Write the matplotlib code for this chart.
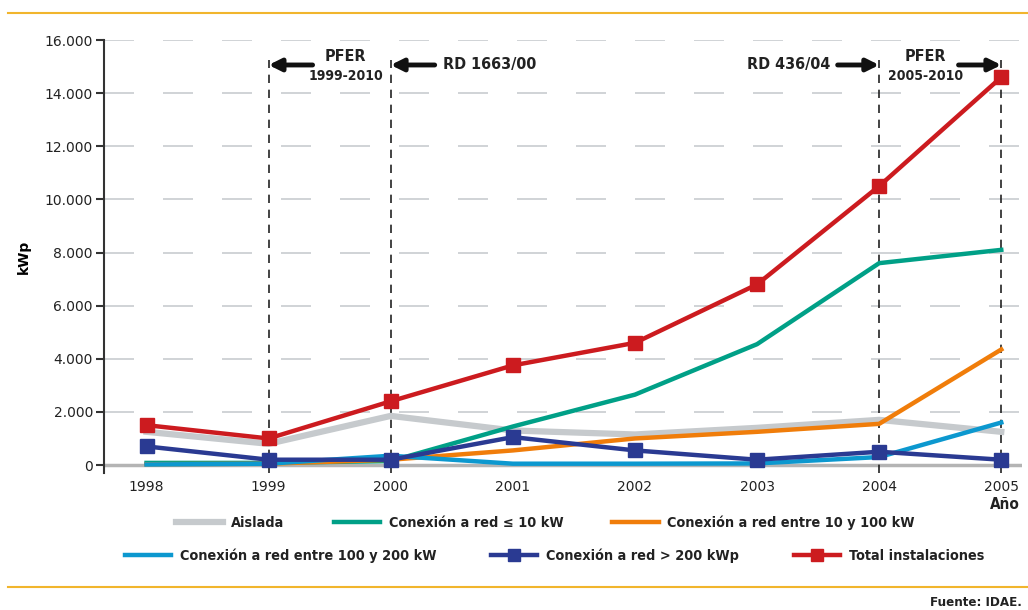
import matplotlib.pyplot as plt
from matplotlib.lines import Line2D
from matplotlib.ticker import FuncFormatter
from matplotlib.font_manager import FontProperties

years = [1998, 1999, 2000, 2001, 2002, 2003, 2004, 2005]
aislada = [1250, 800, 1850, 1300, 1150, 1400, 1700, 1250]
red_10 = [80, 80, 150, 1450, 2650, 4550, 7600, 8100]
red_10_100 = [30, 50, 200, 550, 1000, 1250, 1550, 4350]
red_100_200 = [20, 50, 350, 50, 50, 60, 300, 1600]
red_200 = [700, 200, 200, 1050, 550, 200, 500, 200]
total = [1500, 1000, 2400, 3750, 4600, 6800, 10500, 14600]

labels = ['Aislada', 'Conexión a red ≤ 10 kW', 'Conexión a red entre 10 y 100 kW',
          'Conexión a red entre 100 y 200 kW', 'Conexión a red > 200 kWp', 'Total instalaciones']
colors = ['#c6cacd', '#00a087', '#f07d0a', '#0c98cf', '#2a3a92', '#cc1b1f']
milestones = [1999, 2000, 2004, 2005]


def narrow(size):
    return FontProperties(family='DejaVu Sans', stretch='condensed', weight='bold', size=size)


fig = plt.figure(figsize=(10.28, 6.1), dpi=100)
ax = fig.add_axes([0.1012, 0.2246, 0.893, 0.7098])

ax.set_xlim(1997.652, 2005.17)
ax.set_ylim(-300, 16000)

# grid and base line
ax.grid(axis='y', color='#c8ccd0', lw=1.2, linestyle=(0, (18, 17.4)))
ax.set_axisbelow(True)
ax.axhline(0, color='#b4b4b4', lw=2.5, zorder=1)

# milestone lines
ax.vlines(milestones, -300, 15250, colors='#222222', lw=1.2,
          linestyles=(0, (5, 4)), zorder=2)

ax.plot(years, aislada, color=colors[0], lw=4.5, zorder=3)
ax.plot(years, red_10, color=colors[1], lw=3.2, zorder=3)
ax.plot(years, red_10_100, color=colors[2], lw=3.2, zorder=3)
ax.plot(years, red_100_200, color=colors[3], lw=3.2, zorder=3)
ax.plot(years, red_200, color=colors[4], lw=3.2, marker='s', ms=10, zorder=4)
ax.plot(years, total, color=colors[5], lw=3.2, marker='s', ms=10, zorder=5)

for s in ['top', 'right', 'bottom']:
    ax.spines[s].set_visible(False)
ax.spines['left'].set_color('#333333')
ax.spines['left'].set_linewidth(1.5)

ax.set_yticks(range(0, 16001, 2000))
ax.yaxis.set_major_formatter(FuncFormatter(lambda v, p: f'{v:,.0f}'.replace(',', '.')))
ax.tick_params(axis='y', direction='out', length=6, width=1.5, color='#333333',
               labelsize=10, labelcolor='#222222', pad=2)
ax.set_xticks(years)
ax.tick_params(axis='x', length=0, labelsize=10, labelcolor='#222222', pad=5)

ax.set_ylabel('kWp', fontsize=10, fontweight='bold', labelpad=10)
ax.text(2005.03, -1500, 'Año', fontproperties=narrow(11), ha='center', va='center',
        color='#222222')

# arrows and labels for the plans
arrow = dict(arrowstyle='-|>', color='#111111', lw=3.5, mutation_scale=18,
             shrinkA=0, shrinkB=0)
ay = 15060
ax.annotate('', xy=(1999, ay), xytext=(1999.36, ay), arrowprops=arrow)
ax.annotate('', xy=(2000, ay), xytext=(2000.36, ay), arrowprops=arrow)
ax.annotate('', xy=(2004, ay), xytext=(2003.66, ay), arrowprops=arrow)
ax.annotate('', xy=(2005, ay), xytext=(2004.65, ay), arrowprops=arrow)

ax.text(1999.63, 15380, 'PFER', fontproperties=narrow(11.5), ha='center', va='center',
        color='#222222')
ax.text(1999.63, 14640, '1999-2010', fontproperties=narrow(10), ha='center', va='center',
        color='#222222')
ax.text(2000.43, ay, 'RD 1663/00', fontproperties=narrow(11.5), ha='left', va='center',
        color='#222222')
ax.text(2003.60, ay, 'RD 436/04', fontproperties=narrow(11.5), ha='right', va='center',
        color='#222222')
ax.text(2004.38, 15380, 'PFER', fontproperties=narrow(11.5), ha='center', va='center',
        color='#222222')
ax.text(2004.38, 14640, '2005-2010', fontproperties=narrow(10), ha='center', va='center',
        color='#222222')


# legend in two rows
def handle(i):
    if i >= 4:
        return Line2D([], [], color=colors[i], lw=3.2, marker='s', ms=9)
    return Line2D([], [], color=colors[i], lw=4.5 if i == 0 else 3.2)


leg1 = fig.legend([handle(i) for i in range(3)], labels[:3], loc='center',
                  bbox_to_anchor=(0.5307, 0.1426), ncol=3, frameon=False,
                  prop=narrow(10.4), handlelength=3.2, handletextpad=0.6,
                  columnspacing=3.4, labelcolor='#222222')
leg2 = fig.legend([handle(i) for i in range(3, 6)], labels[3:], loc='center',
                  bbox_to_anchor=(0.5394, 0.0885), ncol=3, frameon=False,
                  prop=narrow(10.4), handlelength=3.2, handletextpad=0.6,
                  columnspacing=3.8, labelcolor='#222222')

# rules at top and bottom
fig.add_artist(Line2D([0.008, 1.0], [1 - 13 / 610, 1 - 13 / 610], color='#f1b52d', lw=1.5))
fig.add_artist(Line2D([0.008, 1.0], [1 - 587 / 610, 1 - 587 / 610], color='#f1b52d', lw=1.5))
fig.text(0.994, 1 - 603 / 610, 'Fuente: IDAE.', fontproperties=narrow(9.5),
         ha='right', va='center', color='#222222')

fig.savefig('out.png', dpi=100)
